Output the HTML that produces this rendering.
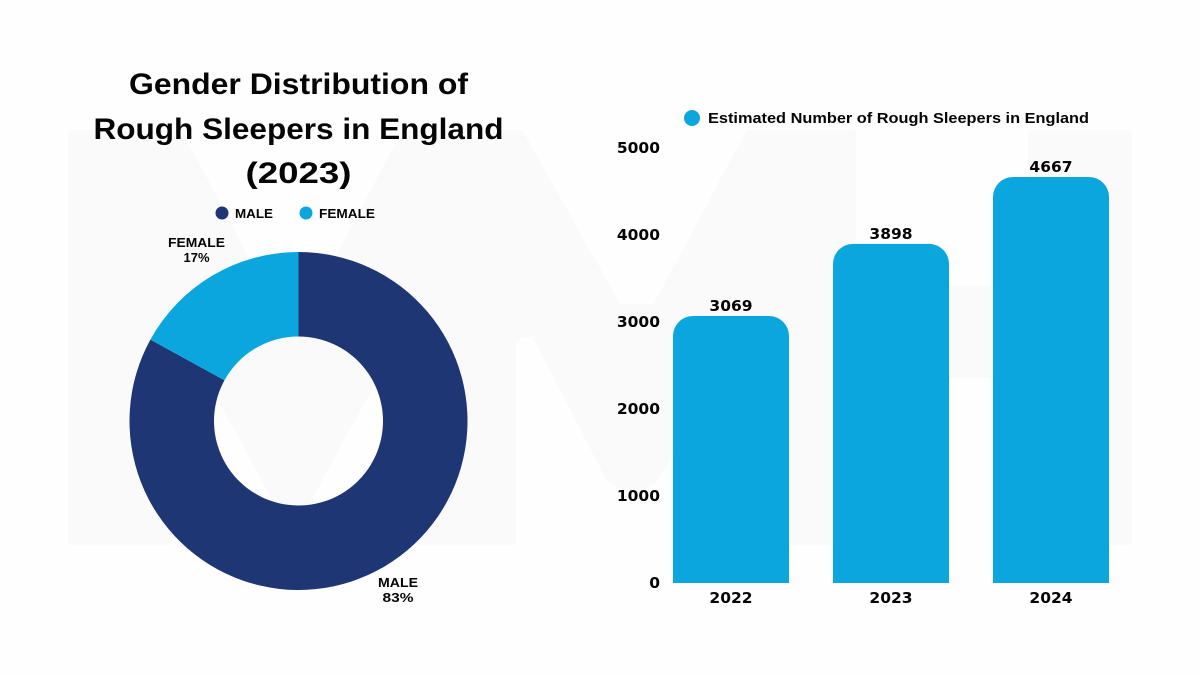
<!DOCTYPE html>
<html lang="en">
<head>
<meta charset="utf-8">
<title>Rough Sleepers in England</title>
<style>
  html, body { margin: 0; padding: 0; background: #fefefe; }
  svg { display: block; }
  text { font-family: "Liberation Sans", sans-serif; font-weight: 700; fill: #050505; }
  .num { font-family: "DejaVu Sans", "Liberation Sans", sans-serif; font-size: 15.5px; }
</style>
</head>
<body>
<svg id="chart" xmlns="http://www.w3.org/2000/svg" width="1200" height="675" viewBox="0 0 1200 675">
  <rect width="1200" height="675" fill="#fefefe"/>
  <g fill="#fafafb" stroke="#fafafb" stroke-width="8" stroke-linejoin="round">
    <path d="M72 134 L179 134 L286 335 Q292 345 298 335 L405 134 L512 134 L512 541 L416 541 L416 300 L304 506 Q292 520 280 506 L168 300 L168 541 L72 541 Z"/>
    <path d="M512 134 L520 134 L618 308 L656 308 L749 134 L757 134 L757 541 L749 541 L749 303 L655 478 Q633 498 610 478 L538 339 Q535 333 529 333 L520 333 L512 341 Z"/>
    <path d="M757 134 L852 134 L852 289 L1032 289 L1032 134 L1128 134 L1128 541 L1032 541 L1032 374 L852 374 L852 541 L757 541 Z"/>
  </g>

  <g font-size="30" text-anchor="middle">
    <text x="298.5" y="94" textLength="339" lengthAdjust="spacingAndGlyphs">Gender Distribution of</text>
    <text x="298.5" y="139" textLength="410" lengthAdjust="spacingAndGlyphs">Rough Sleepers in England</text>
    <text x="298.5" y="183" textLength="106" lengthAdjust="spacingAndGlyphs">(2023)</text>
  </g>

  <g font-size="13">
    <circle cx="222" cy="213" r="6.5" fill="#1e3673"/>
    <text x="235" y="218" textLength="38" lengthAdjust="spacingAndGlyphs">MALE</text>
    <circle cx="306" cy="213" r="6.5" fill="#0ca6df"/>
    <text x="319" y="218" textLength="56" lengthAdjust="spacingAndGlyphs">FEMALE</text>
  </g>

  <g id="donut"></g>

  <g font-size="13" text-anchor="middle">
    <text x="196.5" y="247" textLength="57" lengthAdjust="spacingAndGlyphs">FEMALE</text>
    <text x="196.5" y="262" textLength="26" lengthAdjust="spacingAndGlyphs">17%</text>
    <text x="398" y="587" textLength="40" lengthAdjust="spacingAndGlyphs">MALE</text>
    <text x="398" y="602" textLength="31" lengthAdjust="spacingAndGlyphs">83%</text>
  </g>

  <g>
    <circle cx="692" cy="118" r="8" fill="#0ca6df"/>
    <text x="708" y="123" font-size="15" textLength="381" lengthAdjust="spacingAndGlyphs">Estimated Number of Rough Sleepers in England</text>
  </g>

  <g id="yaxis"></g>
  <g id="bars"></g>
</svg>

<script>
const donutLabels = ['male', 'female'];
const donutValues = [83, 17];
const years = ['2022', '2023', '2024'];
const sleepers = [3069, 3898, 4667];
const yTicks = [0, 1000, 2000, 3000, 4000, 5000];

const SVG_NS = 'http://www.w3.org/2000/svg';
const donutColors = ['#1e3673', '#0ca6df'];

/* Donut */
const cx = 298.5, cy = 421, rOuter = 169, rInner = 84.5;
const donutGroup = document.getElementById('donut');
const donutTotal = donutValues.reduce((a, b) => a + b, 0);
function polar(r, angle) {
  return [cx + r * Math.sin(angle), cy - r * Math.cos(angle)];
}
let startAngle = 0;
donutValues.forEach((v, i) => {
  const sweep = v / donutTotal * Math.PI * 2;
  const endAngle = startAngle + sweep;
  const large = sweep > Math.PI ? 1 : 0;
  const a = polar(rOuter, startAngle), b = polar(rOuter, endAngle);
  const c = polar(rInner, endAngle), d = polar(rInner, startAngle);
  const slice = document.createElementNS(SVG_NS, 'path');
  slice.setAttribute('d', `M${a[0]} ${a[1]} A${rOuter} ${rOuter} 0 ${large} 1 ${b[0]} ${b[1]} L${c[0]} ${c[1]} A${rInner} ${rInner} 0 ${large} 0 ${d[0]} ${d[1]} Z`);
  slice.setAttribute('fill', donutColors[i]);
  
  
  donutGroup.appendChild(slice);
  startAngle = endAngle;
});

/* Bars */
const baseY = 583, topY = 148, maxTick = 5000;
const firstBarX = 673, barStep = 160, barWidth = 116, barRadius = 20;
function yScale(v) {
  return baseY - (v / maxTick) * (baseY - topY);
}
function xScale(i) {
  return firstBarX + i * barStep;
}

const yaxisGroup = document.getElementById('yaxis');
yTicks.forEach(t => {
  const label = document.createElementNS(SVG_NS, 'text');
  label.setAttribute('x', 660);
  label.setAttribute('y', yScale(t) + 5);
  label.setAttribute('text-anchor', 'end');
  label.setAttribute('class', 'num');
  
  
  label.textContent = t;
  yaxisGroup.appendChild(label);
});

const barsGroup = document.getElementById('bars');
sleepers.forEach((v, i) => {
  const x = xScale(i), y = yScale(v), r = barRadius;
  const bar = document.createElementNS(SVG_NS, 'path');
  bar.setAttribute('d', `M${x} ${baseY} L${x} ${y + r} A${r} ${r} 0 0 1 ${x + r} ${y} L${x + barWidth - r} ${y} A${r} ${r} 0 0 1 ${x + barWidth} ${y + r} L${x + barWidth} ${baseY} Z`);
  bar.setAttribute('fill', '#0ca6df');
  
  
  barsGroup.appendChild(bar);

  const valueLabel = document.createElementNS(SVG_NS, 'text');
  valueLabel.setAttribute('x', x + barWidth / 2);
  valueLabel.setAttribute('y', y - 5);
  valueLabel.setAttribute('text-anchor', 'middle');
  valueLabel.setAttribute('class', 'num');
  
  
  valueLabel.textContent = v;
  barsGroup.appendChild(valueLabel);

  const yearLabel = document.createElementNS(SVG_NS, 'text');
  yearLabel.setAttribute('x', x + barWidth / 2);
  yearLabel.setAttribute('y', baseY + 20);
  yearLabel.setAttribute('text-anchor', 'middle');
  yearLabel.setAttribute('class', 'num');
  
  
  yearLabel.textContent = years[i];
  barsGroup.appendChild(yearLabel);
});
</script>
</body>
</html>
